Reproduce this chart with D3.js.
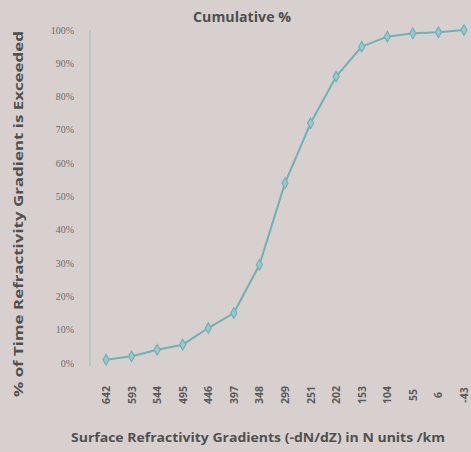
<!DOCTYPE html>
<html>
<head>
<meta charset="utf-8">
<script src="https://cdn.jsdelivr.net/npm/d3@7"></script>
<style>
  body { margin: 0; background: #d8d0cf; }
  svg { display: block; }
</style>
</head>
<body>
<div id="chart"></div>
<script>
var categories = ["642", "593", "544", "495", "446", "397", "348", "299", "251", "202", "153", "104", "55", "6", "-43"];
var cumulative = [1, 2, 4, 5.5, 10.5, 15, 29.5, 54, 72, 86, 95, 98, 99, 99.3, 100];
var yTicks = [0, 10, 20, 30, 40, 50, 60, 70, 80, 90, 100];

var width = 471, height = 452;

var svg = d3.select("#chart").append("svg")
    .attr("width", width)
    .attr("height", height);

svg.append("rect")
    .attr("width", width)
    .attr("height", height)
    .style("fill", "#d8d0cf");

var x = d3.scalePoint()
    .domain(categories)
    .range([106, 464]);

var y = d3.scaleLinear()
    .domain([0, 100])
    .range([363, 30]);

// y axis line
svg.append("line")
    .attr("x1", 90).attr("x2", 90)
    .attr("y1", 30).attr("y2", 366)
    .style("stroke", "#b9c3c4")
    .style("stroke-width", 1.5);

// y tick labels
svg.selectAll(".ytick")
    .data(yTicks)
    .enter()
    .append("text")
    .attr("class", "ytick")
    .attr("x", 74)
    .attr("y", function (d) { return y(d); })
    .attr("dy", "0.35em")
    .attr("text-anchor", "end")
    .style("font-family", "'Liberation Serif', serif")
    .style("font-size", "10px")
    .style("fill", "#6b6b6b")
    .text(function (d) { return d + "%"; });

// x tick labels (rotated)
svg.selectAll(".xtick")
    .data(categories)
    .enter()
    .append("text")
    .attr("class", "xtick")
    .attr("transform", function (d) { return "translate(" + (x(d) + 4) + ",395) rotate(-90)"; })
    .attr("text-anchor", "middle")
    .style("font-family", "'Open Sans', sans-serif")
    .style("font-weight", "bold")
    .style("font-size", "10.5px")
    .style("fill", "#5a5a5a")
    .text(function (d) { return d; });

// line
var line = d3.line()
    .x(function (d, i) { return x(categories[i]); })
    .y(function (d) { return y(d); });

svg.append("path")
    .datum(cumulative)
    .attr("d", line)
    .style("fill", "none")
    .style("stroke", "#6db3b6")
    .style("stroke-width", 2);

svg.selectAll(".pt")
    .data(cumulative)
    .enter()
    .append("path")
    .attr("class", "pt")
    .attr("transform", function (d, i) { return "translate(" + x(categories[i]) + "," + y(d) + ")"; })
    .attr("d", d3.symbol().type(d3.symbolDiamond).size(32))
    .style("fill", "#9cc8ca")
    .style("stroke", "#6db3b6")
    .style("stroke-width", 1.2);

// title
svg.append("text")
    .attr("x", 242)
    .attr("y", 22)
    .attr("text-anchor", "middle")
    .attr("textLength", 98)
    .attr("lengthAdjust", "spacingAndGlyphs")
    .style("font-family", "'Open Sans', sans-serif")
    .style("font-weight", "bold")
    .style("font-size", "14px")
    .style("fill", "#4f4f4f")
    .text("Cumulative %");

// y axis title
svg.append("text")
    .attr("transform", "translate(23,214) rotate(-90)")
    .attr("text-anchor", "middle")
    .attr("textLength", 366)
    .attr("lengthAdjust", "spacingAndGlyphs")
    .style("font-family", "'Open Sans', sans-serif")
    .style("font-weight", "bold")
    .style("font-size", "12.5px")
    .style("fill", "#505050")
    .text("% of Time Refractivity Gradient is Exceeded");

// x axis title
svg.append("text")
    .attr("x", 258)
    .attr("y", 442)
    .attr("text-anchor", "middle")
    .attr("textLength", 374)
    .attr("lengthAdjust", "spacingAndGlyphs")
    .style("font-family", "'Open Sans', sans-serif")
    .style("font-weight", "bold")
    .style("font-size", "12.5px")
    .style("fill", "#505050")
    .text("Surface Refractivity Gradients (-dN/dZ) in N units /km");
</script>
</body>
</html>
